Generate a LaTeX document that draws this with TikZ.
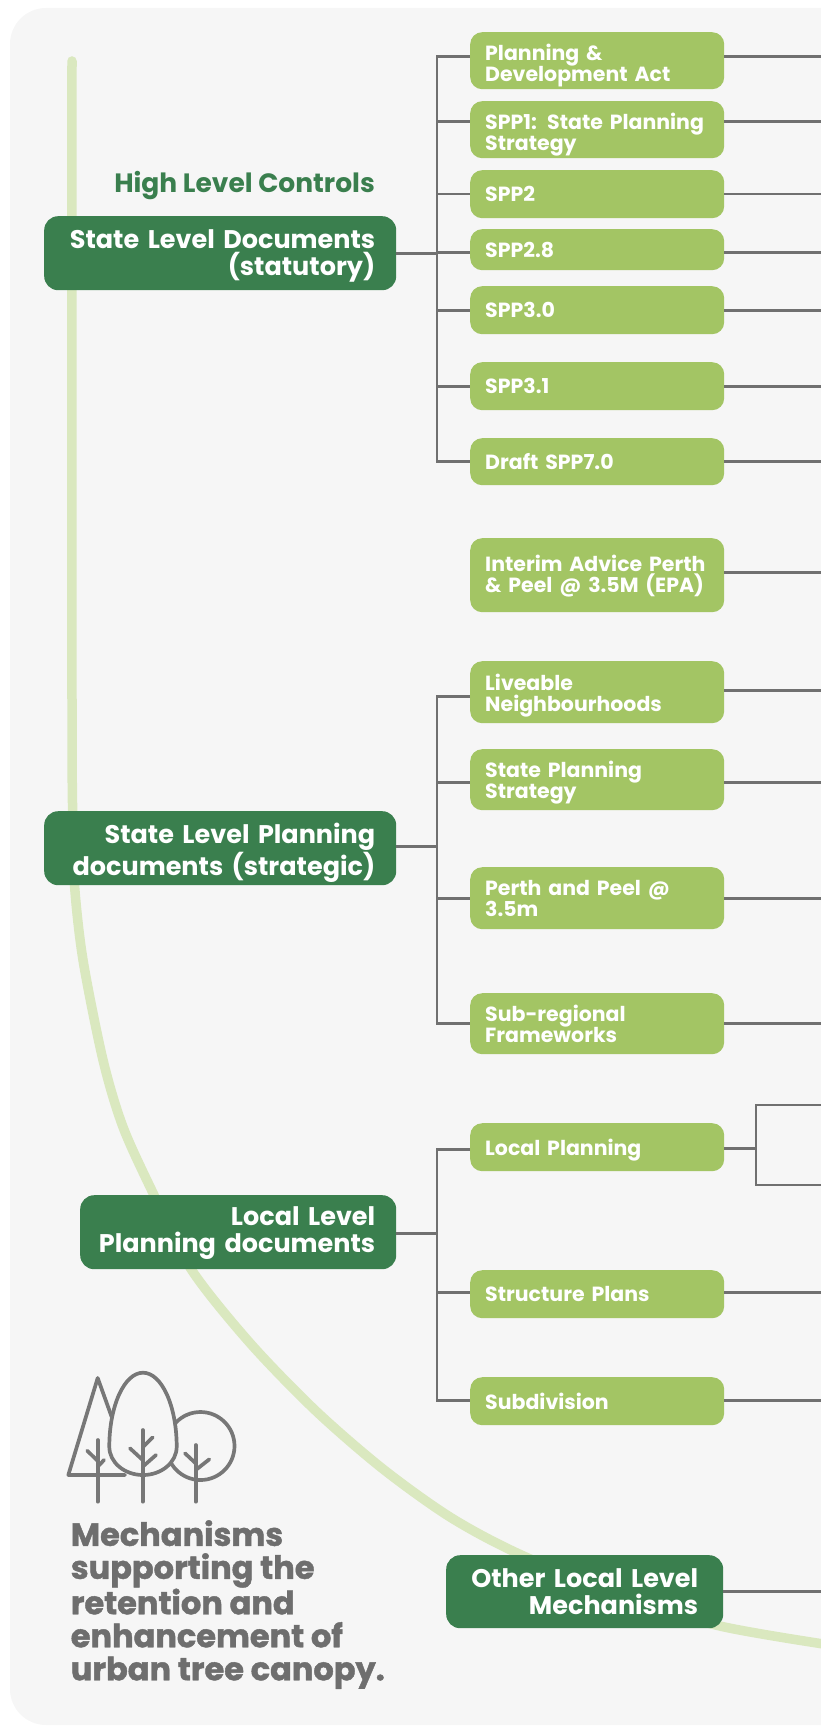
\documentclass[tikz,border=0pt]{standalone}
\usepackage{fontspec}
\setmainfont{Poppins}
\newfontfamily\heavyfont{Poppins}[BoldFeatures={FakeBold=1.3}]
\newcommand\rlineflush[1]{\hfill\llap{#1}}
\definecolor{bg}{HTML}{F6F6F6}
\definecolor{lgreen}{HTML}{A3C564}
\definecolor{dgreen}{HTML}{3A7F4E}
\definecolor{arcg}{HTML}{DAE8BF}
\definecolor{lgray}{HTML}{707070}
\definecolor{tgray}{HTML}{6E6E6E}
\definecolor{igray}{HTML}{777777}
\begin{document}
\begin{tikzpicture}[x=1pt,y=-1pt,
  lbox/.style={fill=lgreen, rounded corners=12pt, anchor=north west,
    minimum width=254pt, text width=224pt, inner xsep=15pt, inner ysep=0pt,
    align=left, text=white, text depth=-3.5pt,
    font=\bfseries\fontsize{20.5pt}{21pt}\selectfont},
  two/.style={text depth=16.5pt},
  twotall/.style={text depth=20.5pt},
  dbox/.style={fill=dgreen, rounded corners=14pt, anchor=north west,
    inner xsep=21pt, inner ysep=0pt, align=right, text=white, text depth=29pt,
    font=\bfseries\fontsize{25.5pt}{27pt}\selectfont},
  conn/.style={draw=lgray, line width=2.6pt},
  arcline/.style={draw=arcg, line width=9.5pt, line cap=round},
  tree/.style={draw=igray, line width=3.7pt, line cap=round, line join=round}
]
\useasboundingbox (0,0) rectangle (820,1731);
\fill[bg, rounded corners=36pt] (10,8) rectangle (900,1725);

% light green guide curve
\draw[arcline] plot[smooth, tension=0.5] coordinates {(72,61) (72,700) (72.8,820) (74.5,885) (83,960) (103,1060) (123,1127) (153,1193) (191,1269) (250,1343) (316,1411) (383,1469) (450,1517) (517,1553) (620,1596) (720,1626) (830,1645)};

% junction column, right edge, bracket corners
\coordinate (J) at (437,0);
\coordinate (E) at (830,0);
\coordinate (bkt) at (756,1105);
\coordinate (bkb) at (756,1185);

% header
\node[anchor=base east, inner sep=0pt, text=dgreen,
  font=\bfseries\fontsize{26.5pt}{28pt}\selectfont] (hl) at (375,193) {High Level Controls};

% main (dark) boxes
\node[dbox, minimum width=352pt, minimum height=74pt, text width=310pt] (d1) at (44,216) {State Level Documents\\(statutory)};
\node[dbox, minimum width=352pt, minimum height=74pt, text width=310pt] (d2) at (44,811) {State Level Planning\\documents (strategic)};
\node[dbox, minimum width=316pt, minimum height=74pt, text width=274pt, text depth=31.5pt] (d3) at (80,1195) {\rlineflush{Local Level}\\\rlineflush{Planning documents}};
\node[dbox, minimum width=277pt, minimum height=73pt, text width=227pt, inner xsep=25pt, text depth=27.5pt] (d4) at (446,1555) {Other Local Level\\Mechanisms};

% light boxes
\node[lbox, two, minimum height=57pt] (b1) at (470,32) {Planning \&\\Development Act};
\node[lbox, two, text depth=17.5pt, minimum height=57pt] (b2) at (470,101) {SPP1: State Planning\\Strategy};
\node[lbox, minimum height=48pt] (b3) at (470,170) {SPP2};
\node[lbox, minimum height=41pt] (b4) at (470,229) {SPP2.8};
\node[lbox, minimum height=48pt] (b5) at (470,286) {SPP3.0};
\node[lbox, minimum height=48pt] (b6) at (470,362) {SPP3.1};
\node[lbox, minimum height=47pt] (b7) at (470,438) {Draft SPP7.0};
\node[lbox, text depth=23.5pt, minimum height=74pt] (b8) at (470,538) {Interim Advice Perth\\\& Peel @ 3.5M (EPA)};
\node[lbox, twotall, minimum height=62pt] (b9) at (470,661) {Liveable\\Neighbourhoods};
\node[lbox, twotall, minimum height=61pt] (b10) at (470,749) {State Planning\\Strategy};
\node[lbox, twotall, minimum height=62pt] (b11) at (470,867) {Perth and Peel @\\3.5m};
\node[lbox, twotall, minimum height=61pt] (b12) at (470,993) {Sub-regional\\Frameworks};
\node[lbox, minimum height=48pt] (b13) at (470,1123) {Local Planning};
\node[lbox, minimum height=48pt] (b14) at (470,1270) {Structure Plans};
\node[lbox, minimum height=48pt] (b15) at (470,1377) {Subdivision};

% group 1 connectors
\draw[conn] (d1.east) -- (d1.east -| J);
\draw[conn] ([yshift=4pt]b1.west) -- ([yshift=4pt]b1.west -| J) -- (b7.west -| J) -- (b7.west);
\draw[conn] ([yshift=8pt]b2.west -| J) -- ([yshift=8pt]b2.west);
\draw[conn] (b3.west -| J) -- (b3.west);
\draw[conn] ([yshift=-2.5pt]b4.west -| J) -- ([yshift=-2.5pt]b4.west);
\draw[conn] (b5.west -| J) -- (b5.west);
\draw[conn] (b6.west -| J) -- (b6.west);
% group 2 connectors
\draw[conn] ([yshift=2pt]d2.east) -- ([yshift=2pt]d2.east -| J);
\draw[conn] ([yshift=-4pt]b9.west) -- ([yshift=-4pt]b9.west -| J) -- (b12.west -| J) -- (b12.west);
\draw[conn] ([yshift=-2.5pt]b10.west -| J) -- ([yshift=-2.5pt]b10.west);
\draw[conn] (b11.west -| J) -- (b11.west);
% group 3 connectors
\draw[conn] ([yshift=-1pt]d3.east) -- ([yshift=-1pt]d3.east -| J);
\draw[conn] ([yshift=-2.5pt]b13.west) -- ([yshift=-2.5pt]b13.west -| J) -- ([yshift=1pt]b15.west -| J) -- ([yshift=1pt]b15.west);
\draw[conn] ([yshift=2pt]b14.west -| J) -- ([yshift=2pt]b14.west);

% right-hand connectors
\draw[conn] ([yshift=4pt]b1.east) -- ([yshift=4pt]b1.east -| E);
\draw[conn] ([yshift=8pt]b2.east) -- ([yshift=8pt]b2.east -| E);
\draw[conn] (b3.east) -- (b3.east -| E);
\draw[conn] ([yshift=-2.5pt]b4.east) -- ([yshift=-2.5pt]b4.east -| E);
\draw[conn] (b5.east) -- (b5.east -| E);
\draw[conn] (b6.east) -- (b6.east -| E);
\draw[conn] (b7.east) -- (b7.east -| E);
\draw[conn] ([yshift=3pt]b8.east) -- ([yshift=3pt]b8.east -| E);
\draw[conn] ([yshift=2pt]b9.east) -- ([yshift=2pt]b9.east -| E);
\draw[conn] ([yshift=-2.5pt]b10.east) -- ([yshift=-2.5pt]b10.east -| E);
\draw[conn] (b11.east) -- (b11.east -| E);
\draw[conn] (b12.east) -- (b12.east -| E);
\draw[conn] ([yshift=-1pt]b13.east) -- ([yshift=-1pt]b13.east -| bkt);
\draw[conn] (bkt -| E) -- (bkt) -- (bkb) -- (bkb -| E);
\draw[conn] ([yshift=2pt]b14.east) -- ([yshift=2pt]b14.east -| E);
\draw[conn] ([yshift=1pt]b15.east) -- ([yshift=1pt]b15.east -| E);
\draw[conn] (d4.east) -- (d4.east -| E);

% tree icon
\draw[tree] (125,1475) -- (68.3,1475) -- (97.7,1378) -- (120,1440);
\draw[tree] (200.5,1446) circle[radius=34pt];
\draw[tree, fill=bg] (109.3,1446.7) arc[start angle=180, end angle=0, x radius=33.7pt, y radius=74pt]
  arc[start angle=0, end angle=-180, x radius=33.7pt, y radius=28.3pt] -- cycle;
\draw[tree] (97.7,1440) -- (97.7,1501.7);
\draw[tree] (87.3,1450.7) -- (97.7,1461);
\draw[tree] (104,1460) -- (97.7,1466.7);
\draw[tree] (142.7,1430) -- (142.7,1501.7);
\draw[tree] (152.7,1437.3) -- (142.7,1447.3);
\draw[tree] (130,1448.3) -- (142.7,1460);
\draw[tree] (156,1455) -- (142.7,1466.7);
\draw[tree] (195.7,1445) -- (195.7,1501.7);
\draw[tree] (185,1453.3) -- (195.7,1463.3);
\draw[tree] (209.3,1459.3) -- (195.7,1470);

% caption
\node[anchor=north west, align=left, inner sep=0pt, text=tgray,
  font=\heavyfont\bfseries\fontsize{32pt}{33pt}\selectfont] (mech) at (70.6,1520)
  {Mechanisms\\supporting the\\retention and\\enhancement of\\urban tree canopy.};
\end{tikzpicture}
\end{document}
